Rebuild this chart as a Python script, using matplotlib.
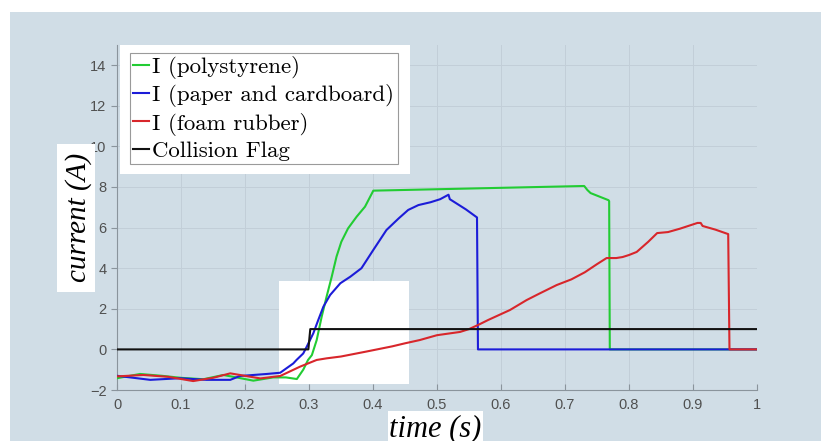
import numpy as np
import matplotlib
matplotlib.use("Agg")
import matplotlib.pyplot as plt
from matplotlib.patches import Rectangle

# time (s) / current (A)
t_poly = [0, .036, .07, .10, .135, .166, .19, .213, .244, .264, .281, .291, .2985, .3045, .312, .3198, .3275,
          .3355, .343, .3505, .361, .3745, .3875, .4005, .73, .735, .74, .768, .769, .77, 1.0]
i_poly = [-1.42, -1.21, -1.3, -1.4, -1.47, -1.26, -1.4, -1.54, -1.38, -1.38, -1.46, -1.0, -0.52, -0.28, 0.46, 1.61, 2.6,
          3.58, 4.57, 5.3, 5.96, 6.54, 7.03, 7.82, 8.05, 7.85, 7.7, 7.35, 7.3, 0, 0]

t_paper = [0, .052, .098, .14, .177, .192, .234, .255, .2755, .2805, .291, .2964, .3067, .3145, .3224, .333, .349,
           .3645, .382, .4005, .421, .44, .455, .471, .49, .505, .518, .52, .53, .545, .5625, .564, 1.0]
i_paper = [-1.3, -1.5, -1.42, -1.5, -1.5, -1.31, -1.21, -1.15, -0.69, -0.52, -0.2, 0.13, 0.79, 1.45, 2.1, 2.68, 3.26,
           3.58, 4.0, 4.9, 5.88, 6.45, 6.87, 7.11, 7.25, 7.4, 7.62, 7.4, 7.2, 6.9, 6.5, 0, 0]

t_foam = [0, .041, .08, .119, .15, .177, .224, .255, .286, .312, .3276, .35, .389, .43, .45, .473, .50,
          .536, .55, .564, .58, .614, .64, .66, .687, .71, .731, .75, .765, .78, .79, .80, .812, .83, .844, .861,
          .88, .907, .912, .915, .935, .955, .957, 1.0]
i_foam = [-1.33, -1.26, -1.35, -1.56, -1.4, -1.18, -1.43, -1.31, -0.85, -0.52, -0.44, -0.35, -0.11, 0.15, 0.3, 0.46, 0.7,
          0.86, 1.0, 1.2, 1.45, 1.94, 2.43, 2.75, 3.17, 3.45, 3.8, 4.2, 4.5, 4.5, 4.55, 4.65, 4.8, 5.3, 5.73, 5.78,
          5.95, 6.23, 6.23, 6.08, 5.9, 5.68, 0, 0]

t_flag = [0, 0.299, 0.302, 1.0]
flag = [0, 0, 1, 1]

labels = ["I (polystyrene)", "I (paper and cardboard)", "I (foam rubber)", "Collision Flag"]
colors = ["#22cc33", "#1c1cd8", "#d8262b", "#111111"]

W, H = 821, 441
bg = "#d0dde6"

fig = plt.figure(figsize=(W / 100, H / 100), dpi=100)
fig.patch.set_facecolor("white")

def px_rect(x0, y0, x1, y1, **kw):
    # rectangle given in image pixels (origin top-left) -> figure coords
    return Rectangle((x0 / W, 1 - y1 / H), (x1 - x0) / W, (y1 - y0) / H,
                     transform=fig.transFigure, **kw)

fig.add_artist(px_rect(10, 12, W, H, facecolor=bg, edgecolor="none", zorder=-1))

ax = fig.add_axes([117 / W, 1 - 390 / H, 640 / W, (390 - 44.9) / H])
ax.set_facecolor(bg)
ax.set_axisbelow(True)

series = [(t_poly, i_poly), (t_paper, i_paper), (t_foam, i_foam), (t_flag, flag)]
for (tt, ii), c, lab in zip(series, colors, labels):
    ax.plot(tt, ii, color=c, lw=1.5, label=lab, zorder=3)

# white patches over the plot area
ax.add_patch(px_rect(279, 281, 409, 384, facecolor="white", edgecolor="none", zorder=1, clip_on=False))
ax.add_patch(px_rect(120, 45, 410, 174, facecolor="white", edgecolor="none", zorder=1, clip_on=False))

ax.set_xlim(0, 1)
ax.set_ylim(-2, 15)
ax.set_xticks(np.arange(0, 1.01, 0.1))
ax.set_xticklabels(["0", "0.1", "0.2", "0.3", "0.4", "0.5", "0.6", "0.7", "0.8", "0.9", "1"])
ax.set_yticks(np.arange(-2, 15, 2))
ax.grid(True, color="#c2ced8", lw=0.7)
for s in ["top", "right"]:
    ax.spines[s].set_visible(False)
for s in ["left", "bottom"]:
    ax.spines[s].set_color("#8a949c")
ax.tick_params(axis="x", direction="in", length=4, colors="#8a949c", labelcolor="#505050",
               labelsize=10.5, pad=6)
ax.tick_params(axis="y", direction="out", length=4, colors="#8a949c", labelcolor="#505050",
               labelsize=10.5)
for lbl in ax.get_xticklabels() + ax.get_yticklabels():
    lbl.set_fontfamily("Liberation Sans")

leg = ax.legend(loc="upper left", bbox_to_anchor=(130 / W, 1 - 53 / H),
                bbox_transform=fig.transFigure, prop={"family": "cmr10", "size": 16.5},
                handlelength=0.7, handletextpad=0.12, labelspacing=0.22, borderpad=0.15,
                borderaxespad=0, fancybox=False, framealpha=1, edgecolor="#9a9a9a")
leg.get_frame().set_linewidth(0.8)
leg.set_zorder(5)

# axis titles sit on white patches
fig.add_artist(px_rect(57, 144, 95, 292, facecolor="white", edgecolor="none", zorder=2))
fig.add_artist(px_rect(388, 411, 483, 441, facecolor="white", edgecolor="none", zorder=2))
fig.text(79 / W, 1 - 217 / H, "current (A)", rotation=90, ha="center", va="center",
         family="Liberation Serif", style="italic", fontsize=21, zorder=3)
fig.text(435 / W, 1 - 414 / H, "time (s)", ha="center", va="top",
         family="Liberation Serif", style="italic", fontsize=22, zorder=3)

fig.savefig("out.png", dpi=100, facecolor=fig.get_facecolor())
